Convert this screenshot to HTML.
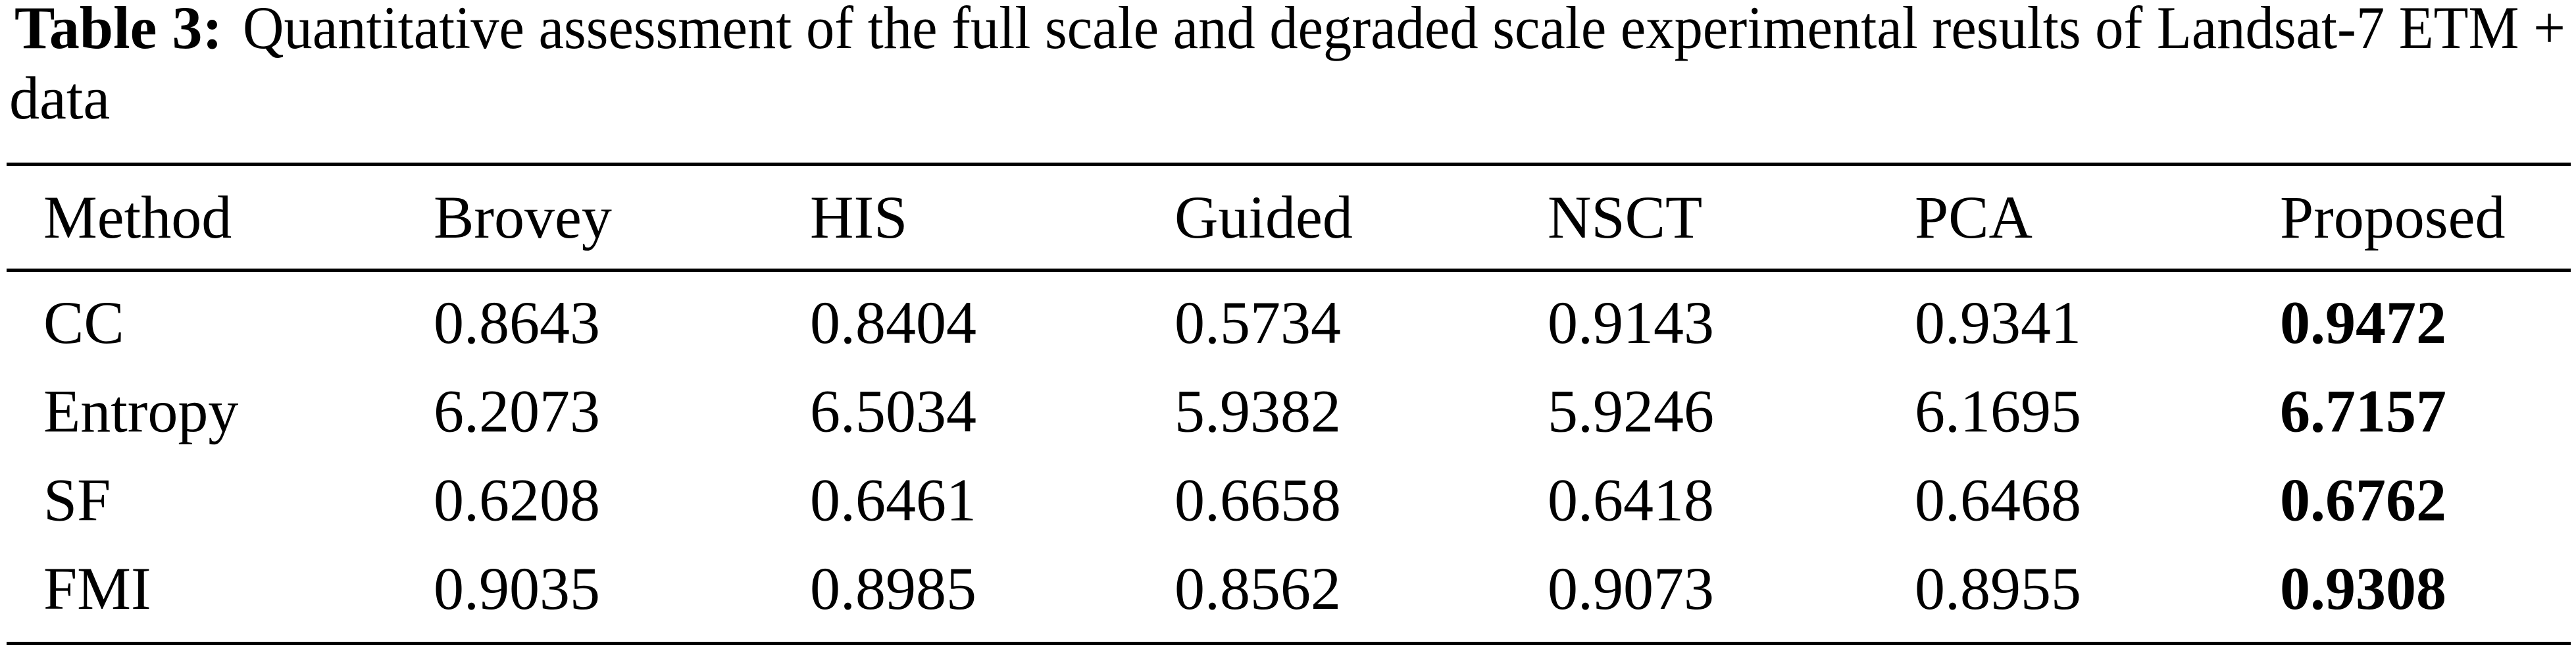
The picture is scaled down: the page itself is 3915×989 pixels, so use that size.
<!DOCTYPE html>
<html><head><meta charset="utf-8"><style>
html,body{margin:0;padding:0;background:#fff;width:3915px;height:989px;overflow:hidden}
svg{display:block}
text{font-family:"Liberation Serif","Times New Roman",serif;font-size:92px;fill:#000}
</style></head><body>
<svg width="3915" height="989" viewBox="0 0 3915 989">
<text x="22" y="73" font-weight="bold">Table 3:</text>
<text x="369" y="73" textLength="3530" lengthAdjust="spacingAndGlyphs">Quantitative assessment of the full scale and degraded scale experimental results of Landsat-7 ETM +</text>
<text x="14" y="180">data</text>
<rect x="10" y="247" width="3897" height="5"/>
<rect x="10" y="408" width="3897" height="5"/>
<rect x="10" y="975" width="3897" height="5"/>
<g id="cells"></g>
</svg>
<script>
const headers=["Method","Brovey","HIS","Guided","NSCT","PCA","Proposed"];
const metrics=["CC","Entropy","SF","FMI"];
const brovey=["0.8643","6.2073","0.6208","0.9035"];
const his=["0.8404","6.5034","0.6461","0.8985"];
const guided=["0.5734","5.9382","0.6658","0.8562"];
const nsct=["0.9143","5.9246","0.6418","0.9073"];
const pca=["0.9341","6.1695","0.6468","0.8955"];
const proposed=["0.9472","6.7157","0.6762","0.9308"];
const colX=[66,659,1231,1785,2352,2910,3465];
const NS="http://www.w3.org/2000/svg";
const g=document.getElementById('cells');
function cell(x,y,t,bold,name){
  const e=document.createElementNS(NS,'text');
  e.setAttribute('x',x);e.setAttribute('y',y);
  if(bold)e.setAttribute('font-weight','bold');
  e.textContent=t;
  
  
  g.appendChild(e);
}
headers.forEach((h,i)=>cell(colX[i],361,h,false,'header-'+h.toLowerCase()));
const cols=[brovey,his,guided,nsct,pca,proposed];
metrics.forEach((m,r)=>{
  const y=521+r*134.7;
  cell(colX[0],y,m,false,'row-label-'+m.toLowerCase());
  cols.forEach((c,i)=>cell(colX[i+1],y,c[r],i===5,'cell-'+m.toLowerCase()+'-'+headers[i+1].toLowerCase()));
});
</script>
</body></html>
